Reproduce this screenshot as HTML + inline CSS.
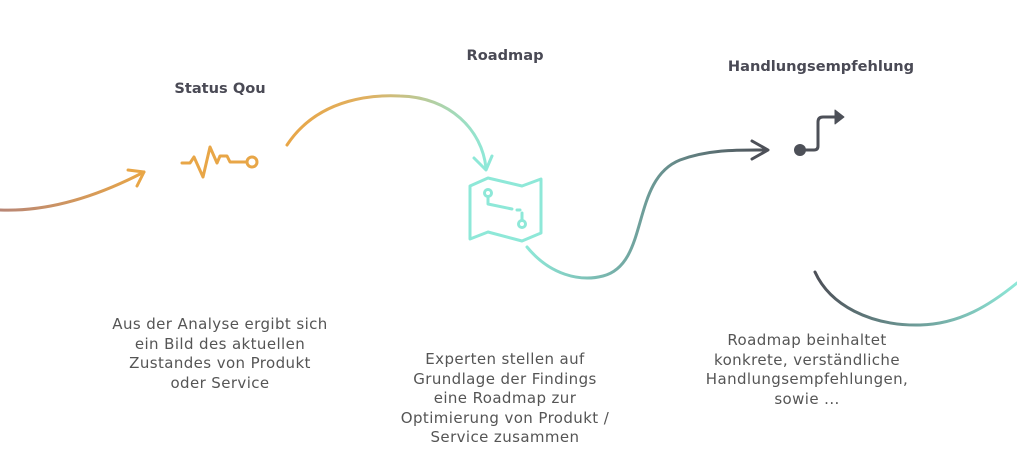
<!DOCTYPE html>
<html><head><meta charset="utf-8"><style>
body{margin:0;width:1017px;height:456px;background:#fff;overflow:hidden;position:relative;font-family:"DejaVu Sans","Liberation Sans",sans-serif;}
.t{position:absolute;font-weight:bold;font-size:14.6px;color:#4a4a55;transform:translateX(-50%);white-space:nowrap;}
.p{position:absolute;font-size:15px;line-height:19.6px;letter-spacing:0.4px;color:#555;text-align:center;transform:translateX(-50%);white-space:nowrap;}
svg{position:absolute;left:0;top:0}
</style></head><body>
<svg width="1017" height="456" fill="none" stroke-linecap="round" stroke-linejoin="round">
<defs>
<linearGradient id="g1" x1="0" x2="1"><stop offset="0" stop-color="#b88676"/><stop offset="1" stop-color="#e8a647"/></linearGradient>
<linearGradient id="g2" x1="0" x2="1"><stop offset="0" stop-color="#e8a647"/><stop offset="0.4" stop-color="#e0b060"/><stop offset="1" stop-color="#8ee8d8"/></linearGradient>
<linearGradient id="g3" x1="0" x2="1"><stop offset="0" stop-color="#8ee8d8"/><stop offset="1" stop-color="#4d5058"/></linearGradient>
<linearGradient id="g4" x1="0" x2="1"><stop offset="0" stop-color="#4d5058"/><stop offset="1" stop-color="#8ee8d8"/></linearGradient>
</defs>
<path d="M0 210 C50 212 100 195 144 172" stroke="url(#g1)" stroke-width="3"/>
<path d="M128 170 L144 172 L137 186" stroke="#e8a647" stroke-width="3"/>
<path d="M182 163 H190 L194 157 L203 177 L210 147 L217 163 L220 156 H227 L230 162 H247" stroke="#e8a647" stroke-width="3"/>
<circle cx="252" cy="162" r="5" stroke="#e8a647" stroke-width="3"/>
<path d="M287 145 C320 95 380 95 400 96 C450 97 482 130 486 168" stroke="url(#g2)" stroke-width="3"/>
<path d="M474 158 L486 170 L492 156" stroke="#8ee8d8" stroke-width="3"/>
<g stroke="#8ee8d8" stroke-width="3">
<path d="M470 186 L488 178 L522 186 L541 179 L541 233 L522 241 L488 232 L470 239 Z"/>
<circle cx="488" cy="193" r="3.5"/>
<path d="M488 197 V204 L512 209"/><path d="M517 210 H520"/>
<circle cx="522" cy="224" r="3.5"/><path d="M522 220 V213"/>
</g>
<path d="M527 247 C550 275 580 282 603 276 C650 264 630 180 680 160 C710 149 740 150 766 150" stroke="url(#g3)" stroke-width="3"/>
<path d="M752 141 L768 150 L752 159" stroke="#4d5058" stroke-width="3"/>
<circle cx="800" cy="150" r="6" fill="#4d5058" stroke="none"/>
<path d="M800 150 H814 Q818 150 818 146 V122 Q818 117 823 117 H835" stroke="#4d5058" stroke-width="3"/>
<path d="M835 110 L844 117 L835 124 Z" fill="#4d5058" stroke="#4d5058" stroke-width="1"/>
<path d="M815 272 C830 305 870 326 920 325 C960 324 990 305 1017 283" stroke="url(#g4)" stroke-width="3"/>
</svg>
<div class="t" style="left:220px;top:80px">Status Qou</div>
<div class="t" style="left:505px;top:47px">Roadmap</div>
<div class="t" style="left:821px;top:58px">Handlungsempfehlung</div>
<div class="p" style="left:220px;top:315px">Aus der Analyse ergibt sich<br>ein Bild des aktuellen<br>Zustandes von Produkt<br>oder Service</div>
<div class="p" style="left:505px;top:350px">Experten stellen auf<br>Grundlage der Findings<br>eine Roadmap zur<br>Optimierung von Produkt /<br>Service zusammen</div>
<div class="p" style="left:807px;top:331px">Roadmap beinhaltet<br>konkrete, verständliche<br>Handlungsempfehlungen,<br>sowie ...</div>
</body></html>
